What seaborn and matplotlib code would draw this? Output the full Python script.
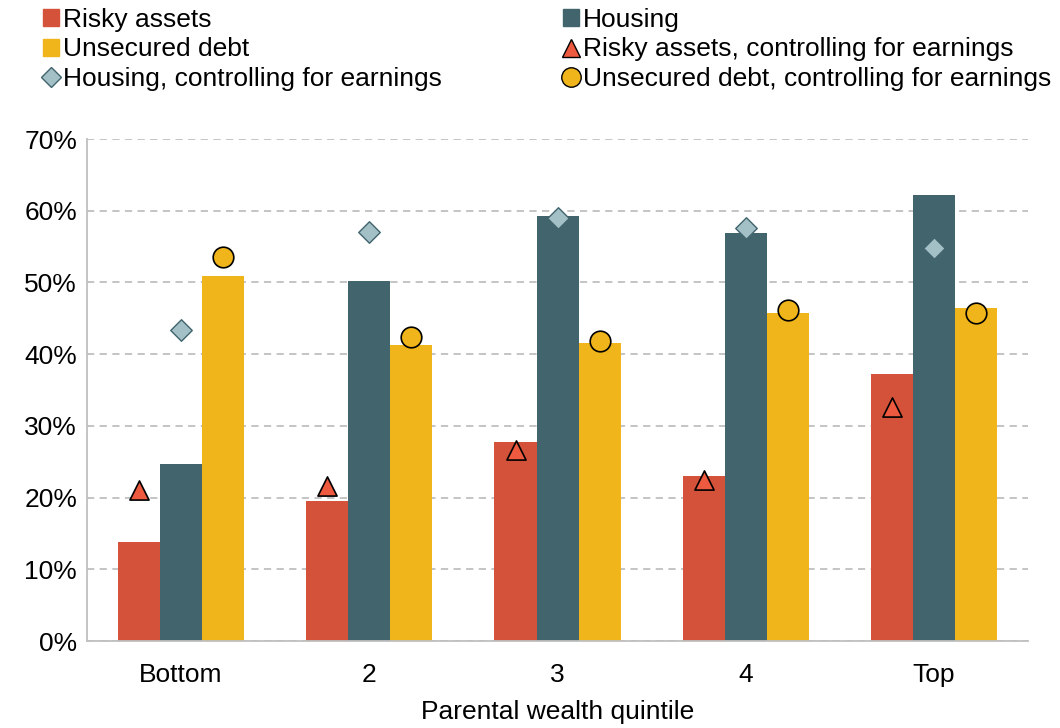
import matplotlib.pyplot as plt
import matplotlib.ticker as mticker
from matplotlib.lines import Line2D
from matplotlib.patches import Patch
import numpy as np
import pandas as pd
import seaborn as sns

sns.set_theme(style="white")
plt.rcParams['font.family'] = ['Liberation Sans', 'DejaVu Sans']
plt.rcParams['text.color'] = 'black'
plt.rcParams['axes.labelcolor'] = 'black'

# Data (shares, %)
quintiles = ['Bottom', '2', '3', '4', 'Top']
series = ['Risky assets', 'Housing', 'Unsecured debt']
risky = [13.8, 19.5, 27.8, 23.0, 37.2]
housing = [24.7, 50.2, 59.3, 56.9, 62.2]
unsecured = [50.9, 41.3, 41.6, 45.8, 46.4]
risky_ctrl = [21.1, 21.6, 26.6, 22.5, 32.6]
housing_ctrl = [43.4, 57.0, 59.0, 57.6, 54.8]
unsecured_ctrl = [53.5, 42.4, 41.8, 46.2, 45.7]

colors = {'Risky assets': '#D35239', 'Housing': '#41646D',
          'Unsecured debt': '#F0B51A'}

df = pd.DataFrame({
    'quintile': quintiles * 3,
    'series': [s for s in series for _ in quintiles],
    'value': risky + housing + unsecured,
})

fig = plt.figure(figsize=(10.6, 7.28), dpi=100)
ax = fig.add_axes([0.082, 0.1195, 0.888, 0.6895])

width = 0.67
sns.barplot(data=df, x='quintile', y='value', hue='series', order=quintiles,
            hue_order=series, palette=colors, width=width, dodge=True,
            saturation=1, legend=False, linewidth=0, ax=ax)

# controlling-for-earnings markers, centred on each bar
bw = width / 3
xs = np.arange(len(quintiles))
ax.scatter(xs - bw, risky_ctrl, marker='^', s=190, color='#EE5A3F',
           edgecolor='black', linewidth=1.2, zorder=3)
ax.scatter(xs, housing_ctrl, marker='D', s=120, color='#A3C0C7',
           edgecolor='#41646D', linewidth=1.0, zorder=3)
ax.scatter(xs + bw, unsecured_ctrl, marker='o', s=220, color='#F0B51A',
           edgecolor='black', linewidth=1.2, zorder=3)

ax.set_xlim(-0.5, 4.5)
ax.set_ylim(0, 70)
ax.yaxis.set_major_locator(mticker.MultipleLocator(10))
ax.yaxis.set_major_formatter(mticker.FuncFormatter(lambda v, p: '%d%%' % v))
ax.grid(axis='y', color='#BFBFBF', linestyle=(0, (4, 3)), linewidth=1.3)
ax.set_axisbelow(True)

for s in ['top', 'right']:
    ax.spines[s].set_visible(False)
for s in ['left', 'bottom']:
    ax.spines[s].set_color('#BFBFBF')
    ax.spines[s].set_linewidth(1.3)

ax.set_xticks(xs)
ax.set_xticks(np.arange(-0.5, 5, 1), minor=True)
ax.tick_params(axis='x', which='major', length=0, labelsize=19, pad=16,
               labelcolor='black')
ax.tick_params(axis='x', which='minor', length=8, width=1.3,
               color='#BFBFBF', direction='out')
ax.tick_params(axis='y', length=0, labelsize=19, pad=7, labelcolor='black')
ax.set_xlabel('Parental wealth quintile', fontsize=19, labelpad=9)
ax.set_ylabel('')

# legend in row order across two columns
handles = [
    Patch(color=colors['Risky assets']),
    Patch(color=colors['Unsecured debt']),
    Line2D([], [], marker='D', linestyle='', markersize=10,
           markerfacecolor='#A3C0C7', markeredgecolor='#41646D'),
    Patch(color=colors['Housing']),
    Line2D([], [], marker='^', linestyle='', markersize=13,
           markerfacecolor='#EE5A3F', markeredgecolor='black'),
    Line2D([], [], marker='o', linestyle='', markersize=14,
           markerfacecolor='#F0B51A', markeredgecolor='black'),
]
labels = ['Risky assets', 'Unsecured debt', 'Housing, controlling for earnings',
          'Housing', 'Risky assets, controlling for earnings',
          'Unsecured debt, controlling for earnings']
fig.legend(handles, labels, ncol=2, loc='upper left',
           bbox_to_anchor=(0.031, 1.004), frameon=False, fontsize=19,
           handlelength=0.6, handleheight=0.6, handletextpad=0.15,
           columnspacing=4.6, labelspacing=0.22, borderaxespad=0)

plt.savefig('out.png', dpi=100)
